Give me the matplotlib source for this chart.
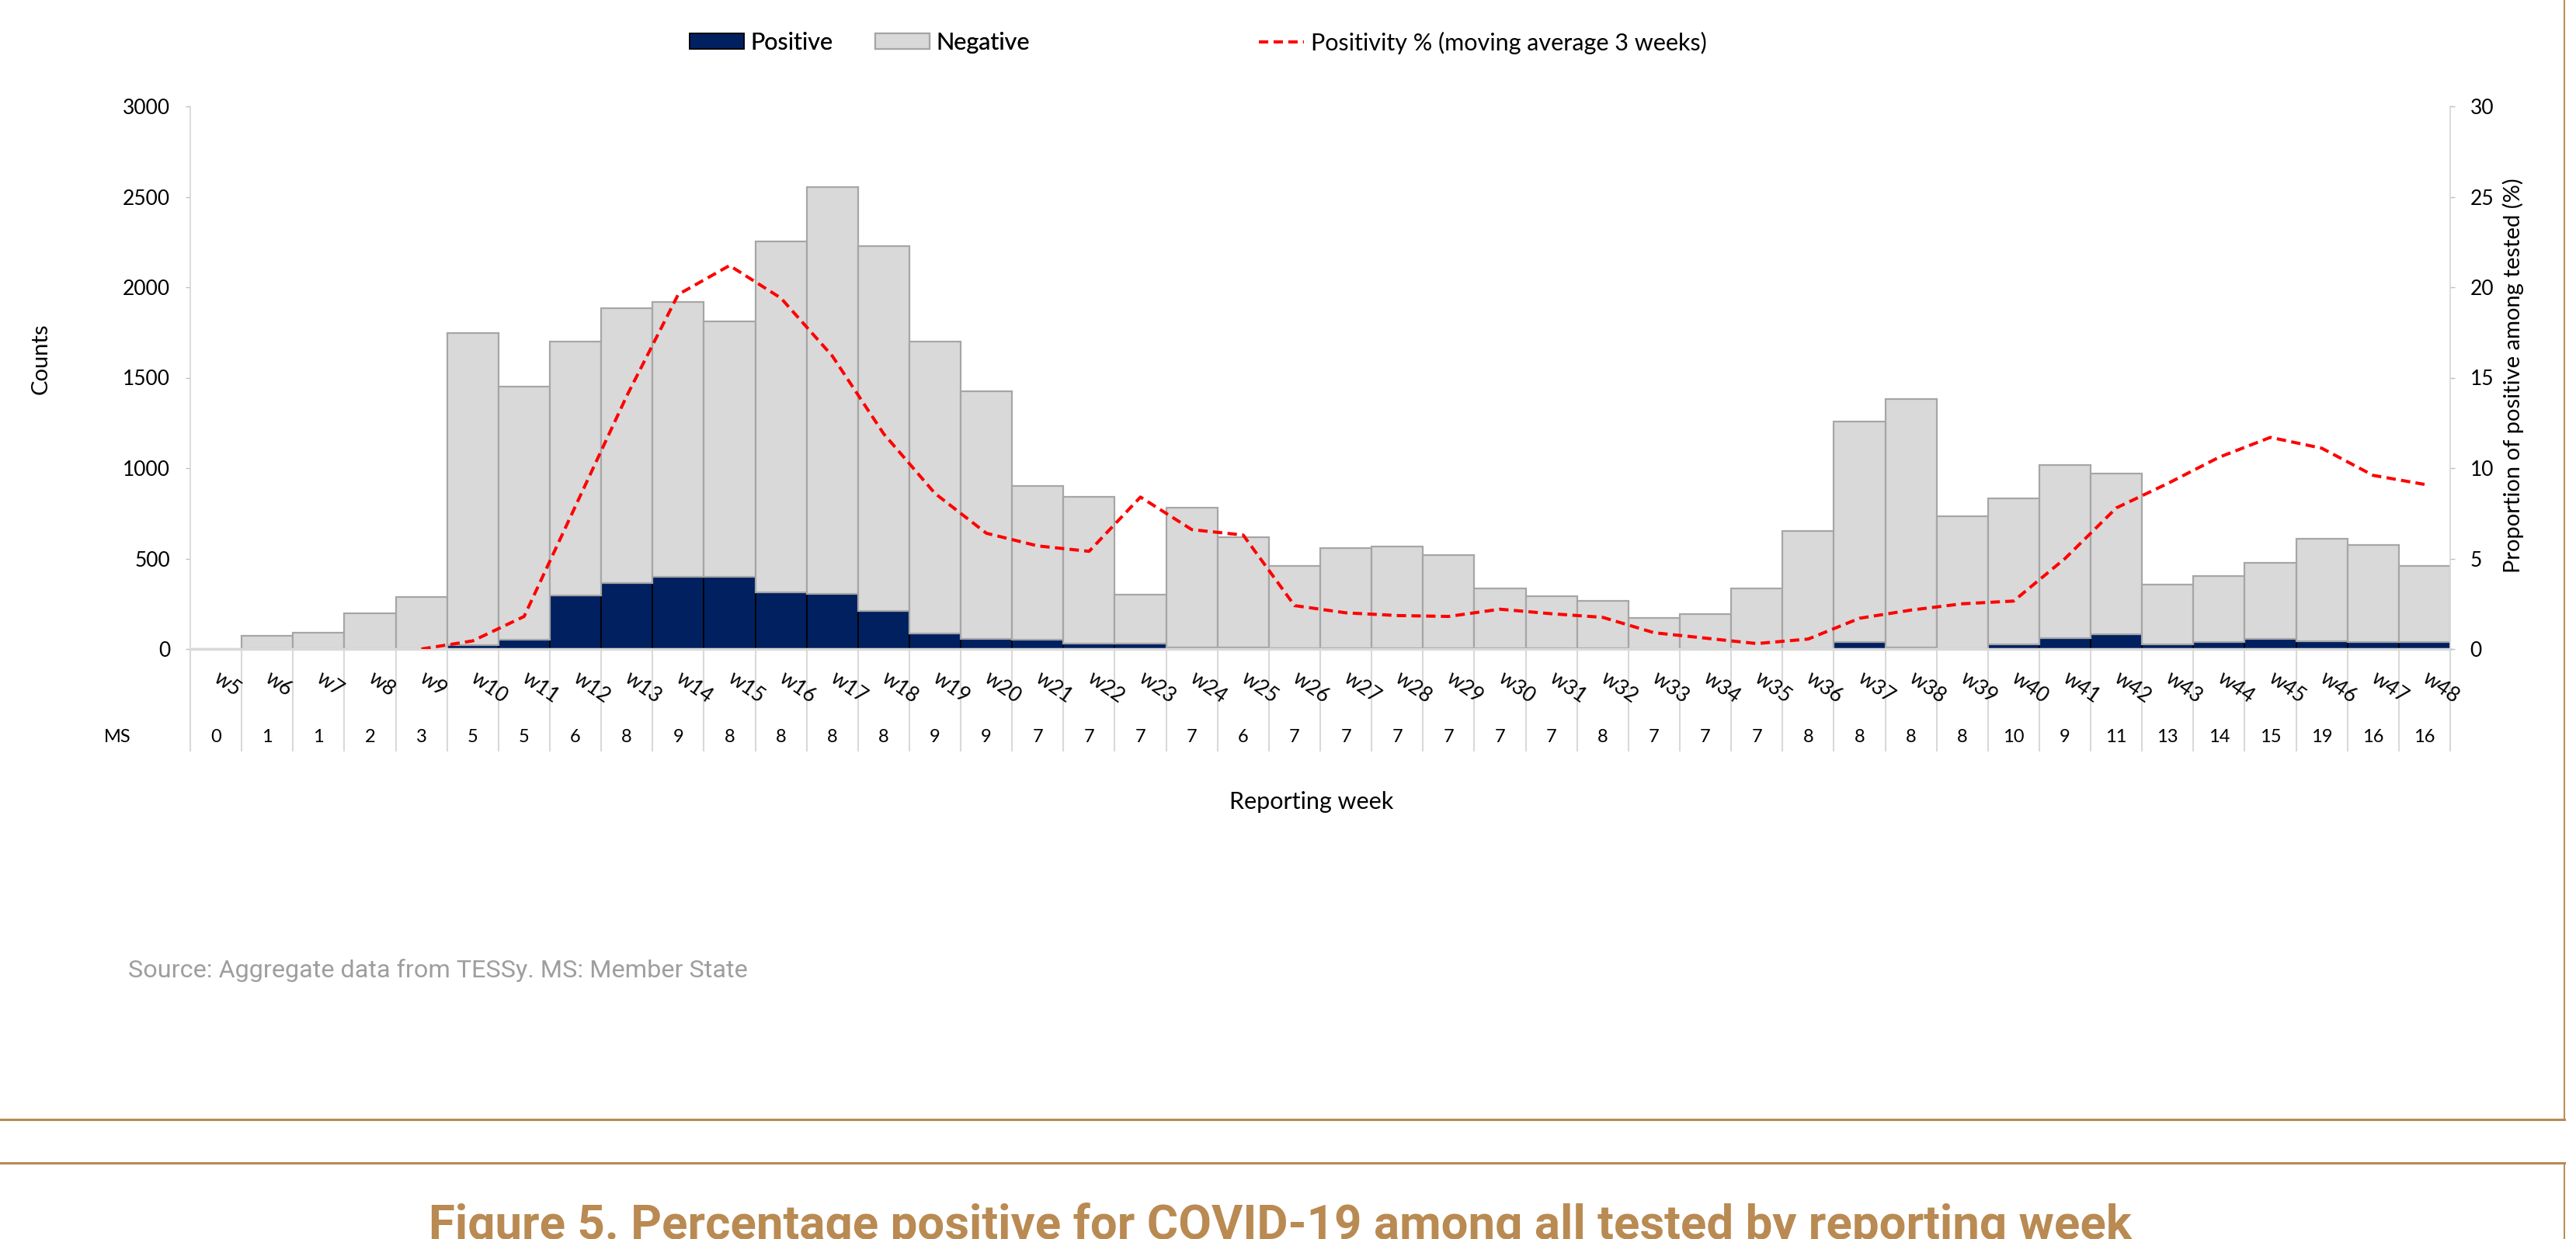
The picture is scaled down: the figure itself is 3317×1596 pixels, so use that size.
import matplotlib
matplotlib.use('Agg')
import matplotlib.pyplot as plt
import matplotlib.transforms as mtransforms
from matplotlib.patches import Patch
from matplotlib.lines import Line2D
import numpy as np

plt.rcParams['font.family'] = ['Lato', 'DejaVu Sans']

# data
weeks = ['w5', 'w6', 'w7', 'w8', 'w9', 'w10', 'w11', 'w12', 'w13', 'w14', 'w15',
         'w16', 'w17', 'w18', 'w19', 'w20', 'w21', 'w22', 'w23', 'w24', 'w25',
         'w26', 'w27', 'w28', 'w29', 'w30', 'w31', 'w32', 'w33', 'w34', 'w35',
         'w36', 'w37', 'w38', 'w39', 'w40', 'w41', 'w42', 'w43', 'w44', 'w45',
         'w46', 'w47', 'w48']
member_states = [0, 1, 1, 2, 3, 5, 5, 6, 8, 9, 8, 8, 8, 8, 9, 9, 7, 7, 7, 7, 6, 7,
                 7, 7, 7, 7, 7, 8, 7, 7, 7, 8, 8, 8, 8, 10, 9, 11, 13, 14, 15, 19, 16, 16]
positive = [0, 0, 0, 0, 0, 20, 50, 297, 365, 400, 400, 315, 305, 210, 84, 55, 53,
            29, 29, 9, 9, 4, 6, 6, 5, 5, 4, 4, 2, 1, 1, 2, 37, 10, 2, 27, 61, 80,
            27, 37, 54, 44, 38, 38]
negative = [0, 72, 90, 197, 288, 1725, 1400, 1403, 1517, 1520, 1412, 1940, 2250,
            2018, 1616, 1371, 850, 814, 271, 771, 610, 457, 550, 560, 516, 330, 287,
            260, 171, 191, 333, 650, 1221, 1370, 731, 804, 957, 892, 331, 367, 422,
            565, 535, 423]
positivity = [np.nan, np.nan, np.nan, np.nan, 0.0, 0.45, 1.8, 7.9, 14.0, 19.6, 21.2,
              19.4, 16.2, 11.9, 8.6, 6.4, 5.7, 5.4, 8.4, 6.6, 6.3, 2.4, 2.0, 1.85,
              1.8, 2.2, 1.95, 1.75, 0.9, 0.6, 0.3, 0.55, 1.7, 2.15, 2.5, 2.65, 5.0,
              7.8, 9.15, 10.6, 11.7, 11.1, 9.6, 9.1]

navy = '#002060'
grey = '#D9D9D9'
axis_grey = '#D9D9D9'
brown = '#B98A52'
line_dash = (3.0, 1.7)

W, H = 3317, 1596
fig = plt.figure(figsize=(W / 100, H / 100), dpi=100)
ax = fig.add_axes([245 / W, 1 - 836 / H, (3155 - 245) / W, (836 - 137) / H])

x = np.arange(len(weeks))
ax.bar(x, positive, width=1.0, color=navy, edgecolor='#000000', linewidth=1.2, zorder=2)
ax.bar(x, negative, width=1.0, bottom=positive, color=grey, edgecolor='#A6A6A6',
       linewidth=1.6, zorder=2)

ax.set_xlim(-0.5, len(weeks) - 0.5)
ax.set_ylim(0, 3000)
ax.set_yticks(np.arange(0, 3001, 500))
ax.tick_params(axis='y', length=4.5, width=1, color='#BFBFBF', pad=14, labelsize=19)
ax.set_xticks(x)
ax.set_xticklabels(weeks, rotation=-35, ha='left', va='center', rotation_mode='anchor',
                   fontsize=19)
ax.tick_params(axis='x', length=0, pad=25)

for s in ['top', 'right']:
    ax.spines[s].set_visible(False)
ax.spines['left'].set_color(axis_grey)
ax.spines['left'].set_linewidth(1.3)
ax.spines['bottom'].set_color(axis_grey)
ax.spines['bottom'].set_linewidth(2.5)
ax.spines['bottom'].set_zorder(3)

# category table separators below the axis
trans = mtransforms.blended_transform_factory(ax.transData, ax.transAxes)
bottom_frac = (836 - 968) / (836 - 137)
ax.vlines(np.arange(len(weeks) + 1) - 0.5, bottom_frac, 0, transform=trans,
          colors=axis_grey, linewidth=1.5, clip_on=False, zorder=1)
ms_y = (836 - 950) / (836 - 137)
for xi, n in zip(x, member_states):
    ax.text(xi, ms_y, str(n), transform=trans, ha='center', va='center', fontsize=17)
fig.text(151 / W, 1 - 950 / H, 'MS', ha='center', va='center', fontsize=17)

ax2 = ax.twinx()
ax2.plot(x, positivity, color='#FF0000', linewidth=2.9, dashes=line_dash)
ax2.set_ylim(0, 30)
ax2.set_yticks(np.arange(0, 31, 5))
ax2.tick_params(axis='y', length=4.5, width=1, color='#BFBFBF', pad=14, labelsize=19)
for s in ['top', 'left', 'bottom']:
    ax2.spines[s].set_visible(False)
ax2.spines['right'].set_color(axis_grey)
ax2.spines['right'].set_linewidth(1.3)

fig.text(53 / W, 1 - 462 / H, 'Counts', rotation=90, ha='center', va='center', fontsize=21)
fig.text(3236 / W, 1 - 484 / H, 'Proportion of positive among tested (%)', rotation=90,
         ha='center', va='center', fontsize=21)
fig.text(1689 / W, 1 - 1033 / H, 'Reporting week', ha='center', va='center', fontsize=22)

# legends
leg_y = 1 - 55 / H
fs = 22
leg1 = fig.legend(handles=[Patch(facecolor=navy, edgecolor='#000000', linewidth=1.2),
                           Patch(facecolor=grey, edgecolor='#A6A6A6', linewidth=1.6)],
                  labels=['Positive', 'Negative'], loc='center left',
                  bbox_to_anchor=(888 / W, leg_y), ncol=2, frameon=False, fontsize=fs,
                  handlelength=2.3, handleheight=0.65, handletextpad=0.25,
                  columnspacing=1.8, borderpad=0, borderaxespad=0)
fig.add_artist(leg1)
fig.legend(handles=[Line2D([], [], color='#FF0000', linewidth=2.9, dashes=line_dash)],
           labels=['Positivity % (moving average 3 weeks)'], loc='center left',
           bbox_to_anchor=(1621 / W, leg_y), frameon=False, fontsize=fs,
           handlelength=1.9, handletextpad=0.3, borderpad=0, borderaxespad=0)

fig.text(165 / W, 1 - 1259 / H, 'Source: Aggregate data from TESSy. MS: Member State',
         ha='left', va='baseline', fontsize=23.3, color='#9E9E9E', family='Roboto')

# page frame
fig.add_artist(Line2D([0, 3302 / W], [1 - 1442 / H] * 2, color=brown, linewidth=2.2))
fig.add_artist(Line2D([0, 3302 / W], [1 - 1498 / H] * 2, color=brown, linewidth=2.2))
fig.add_artist(Line2D([3302 / W] * 2, [1, 1 - 1442 / H], color=brown, linewidth=1.4))
fig.add_artist(Line2D([3302 / W] * 2, [1 - 1498 / H, 0], color=brown, linewidth=1.4))
fig.text(1648 / W, 1 - 1550 / H,
         'Figure 5. Percentage positive for COVID-19 among all tested by reporting week',
         ha='center', va='top', fontsize=44.5, fontweight='bold', color=brown, family='Roboto')

fig.savefig('out.png', dpi=100)
